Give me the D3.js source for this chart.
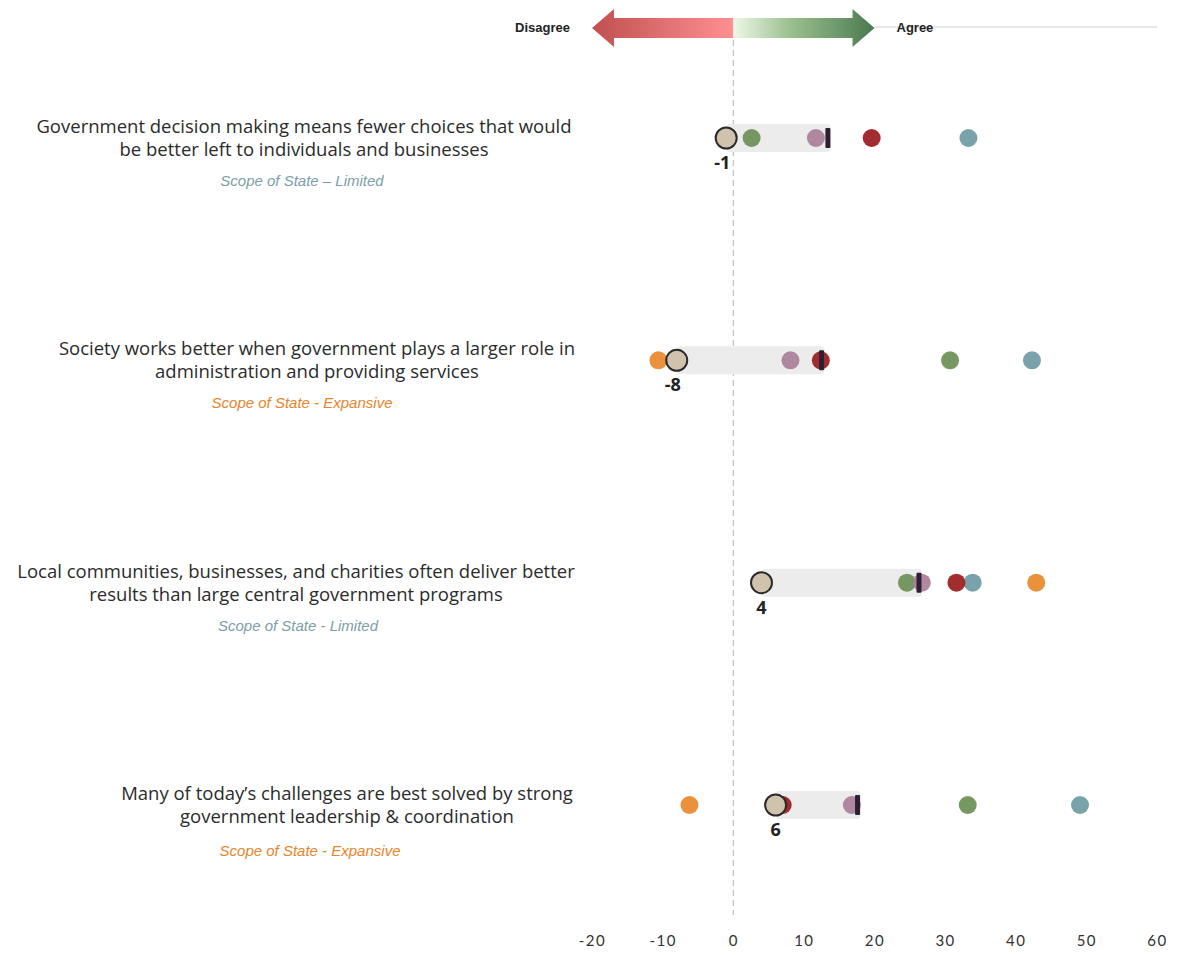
<!DOCTYPE html>
<html>
<head>
<meta charset="utf-8">
<script src="https://cdn.jsdelivr.net/npm/d3@7"></script>
<style>
  html, body { margin: 0; padding: 0; background: #fff; }
  svg { display: block; }
</style>
</head>
<body>
<svg id="chart" width="1179" height="955"></svg>
<script>
// Statements, grouped two lines each, with the scope tag shown beneath
const statements = [
  ["Government decision making means fewer choices that would", "be better left to individuals and businesses"],
  ["Society works better when government plays a larger role in", "administration and providing services"],
  ["Local communities, businesses, and charities often deliver better", "results than large central government programs"],
  ["Many of today\u2019s challenges are best solved by strong", "government leadership & coordination"]
];
const scopeTags = [
  "Scope of State \u2013 Limited",
  "Scope of State - Expansive",
  "Scope of State - Limited",
  "Scope of State - Expansive"
];
const scopeKind = ["limited", "expansive", "limited", "expansive"];

// Net agreement scores
const overall   = [-1, -8, 4, 6];          // labelled headline score
const benchmark = [13.4, 12.5, 26.3, 17.6]; // end marker of the range bar
const segTeal   = [33.3, 42.3, 33.9, 49.1];
const segRed    = [19.6, 12.4, 31.6, 7.0];
const segGreen  = [2.6, 30.7, 24.6, 33.2];
const segMauve  = [11.7, 8.1, 26.7, 16.8];
const segOrange = [null, -10.6, 42.9, -6.2];

const tickValues = [-20, -10, 0, 10, 20, 30, 40, 50, 60];

const segments = [
  { values: segTeal,   color: "#6f9aa3" },
  { values: segRed,    color: "#9a1a1c" },
  { values: segGreen,  color: "#6b8f55" },
  { values: segMauve,  color: "#a97f98" },
  { values: segOrange, color: "#e8892a" }
];

const svg = d3.select("#chart");
const x = d3.scaleLinear().domain([-20, 60]).range([592, 1157]);
const rowY = d3.scalePoint().domain(d3.range(4)).range([138, 805]);

// Text block centres for each statement
const lineCenter = [304, 317, 296, 347];
const tagCenter  = [302, 302, 298, 310];

// ---- Header: disagree / agree double arrow ----
const defs = svg.append("defs");
const gRed = defs.append("linearGradient").attr("id", "gradRed")
  .attr("x1", "0%").attr("x2", "100%");
gRed.append("stop").attr("offset", "0%").attr("stop-color", "#c0504f");
gRed.append("stop").attr("offset", "100%").attr("stop-color", "#ff9092");
const gGreen = defs.append("linearGradient").attr("id", "gradGreen")
  .attr("x1", "0%").attr("x2", "100%");
gGreen.append("stop").attr("offset", "0%").attr("stop-color", "#eef7e8");
gGreen.append("stop").attr("offset", "40%").attr("stop-color", "#9cc08f");
gGreen.append("stop").attr("offset", "100%").attr("stop-color", "#4a7a50");

const ay = 28, shaft = 10, headH = 19, headL = 22;
const x0 = x(0), xl = x(-20), xr = x(20);

svg.append("line")
  .attr("x1", xr).attr("x2", x(60)).attr("y1", ay - 1).attr("y2", ay - 1)
  .attr("stroke", "#cfcfcf").attr("stroke-width", 1);

svg.append("path")
  .attr("d", `M${xl},${ay} L${xl + headL},${ay - headH} L${xl + headL},${ay - shaft} L${x0},${ay - shaft} L${x0},${ay + shaft} L${xl + headL},${ay + shaft} L${xl + headL},${ay + headH} Z`)
  .attr("fill", "url(#gradRed)");
svg.append("path")
  .attr("d", `M${xr},${ay} L${xr - headL},${ay - headH} L${xr - headL},${ay - shaft} L${x0},${ay - shaft} L${x0},${ay + shaft} L${xr - headL},${ay + shaft} L${xr - headL},${ay + headH} Z`)
  .attr("fill", "url(#gradGreen)");

svg.append("text").attr("x", xl - 22).attr("y", ay + 4)
  .attr("text-anchor", "end")
  .attr("font-family", "Liberation Sans, Arial, sans-serif")
  .attr("font-weight", "bold").attr("font-size", 13).attr("fill", "#222")
  .text("Disagree");
svg.append("text").attr("x", xr + 22).attr("y", ay + 4)
  .attr("text-anchor", "start")
  .attr("font-family", "Liberation Sans, Arial, sans-serif")
  .attr("font-weight", "bold").attr("font-size", 13).attr("fill", "#222")
  .text("Agree");

// ---- Zero reference line ----
svg.append("line")
  .attr("x1", x(0)).attr("x2", x(0)).attr("y1", 40).attr("y2", 915)
  .attr("stroke", "#b4b4b4").attr("stroke-width", 1)
  .attr("stroke-dasharray", "6,4");

// ---- Axis ----
const axis = d3.axisBottom(x).tickValues(tickValues).tickSize(0).tickPadding(0)
  .tickFormat(d => d);
const gAxis = svg.append("g").attr("transform", "translate(0,935)").call(axis);
gAxis.select(".domain").remove();
gAxis.selectAll("text")
  .attr("font-family", "Lato, sans-serif").attr("font-size", 15)
  .attr("letter-spacing", "1.5px").attr("fill", "#333");

// ---- Statement labels ----
const labels = svg.append("g").attr("font-family", "Open Sans, sans-serif");
statements.forEach((lines, i) => {
  const cy = rowY(i);
  lines.forEach((t, j) => {
    labels.append("text")
      .attr("x", lineCenter[i]).attr("y", cy - 5 + j * 23)
      .attr("text-anchor", "middle")
      .attr("font-size", 18.5).attr("fill", "#2b2b2b")
      .text(t);
  });
  labels.append("text")
    .attr("x", tagCenter[i]).attr("y", cy + 48 + (i === 3 ? 3 : 0))
    .attr("text-anchor", "middle")
    .attr("font-family", "Liberation Sans, Arial, sans-serif")
    .attr("font-style", "italic").attr("font-size", 15)
    .attr("fill", scopeKind[i] === "limited" ? "#7b9ea7" : "#e8842a")
    .text(scopeTags[i]);
});

// ---- Range bars ----
const rows = svg.append("g");
d3.range(4).forEach(i => {
  const cy = rowY(i);
  const a = Math.min(overall[i], benchmark[i]);
  const b = Math.max(overall[i], benchmark[i]);
  rows.append("rect")
    .attr("x", x(a)).attr("width", x(b) - x(a) + 3)
    .attr("y", cy - 14).attr("height", 28)
    .attr("rx", 4)
    .attr("fill", "#ececec");
});

// ---- Segment dots ----
segments.forEach(s => {
  rows.selectAll(null)
    .data(s.values.map((v, i) => ({ v, i })).filter(d => d.v !== null))
    .join("circle")
    .attr("cx", d => x(d.v)).attr("cy", d => rowY(d.i))
    .attr("r", 9)
    .attr("fill", s.color).attr("fill-opacity", 0.92);
});

// ---- Benchmark markers ----
rows.selectAll(null).data(benchmark).join("rect")
  .attr("x", d => x(d) - 2.5).attr("width", 5)
  .attr("y", (d, i) => rowY(i) - 10).attr("height", 20)
  .attr("rx", 1)
  .attr("fill", "#2e1f33");

// ---- Overall score circles and labels ----
rows.selectAll(null).data(overall).join("circle")
  .attr("cx", d => x(d)).attr("cy", (d, i) => rowY(i))
  .attr("r", 10.5)
  .attr("fill", "#cfc3ad").attr("stroke", "#2a2a2a").attr("stroke-width", 2);

rows.selectAll(null).data(overall).join("text")
  .attr("x", d => x(d) - (d < 0 ? 4 : 0)).attr("y", (d, i) => rowY(i) + 31)
  .attr("text-anchor", "middle")
  .attr("font-family", "Open Sans, sans-serif").attr("font-weight", "bold")
  .attr("font-size", 18).attr("fill", "#222")
  .text(d => d);
</script>
</body>
</html>
